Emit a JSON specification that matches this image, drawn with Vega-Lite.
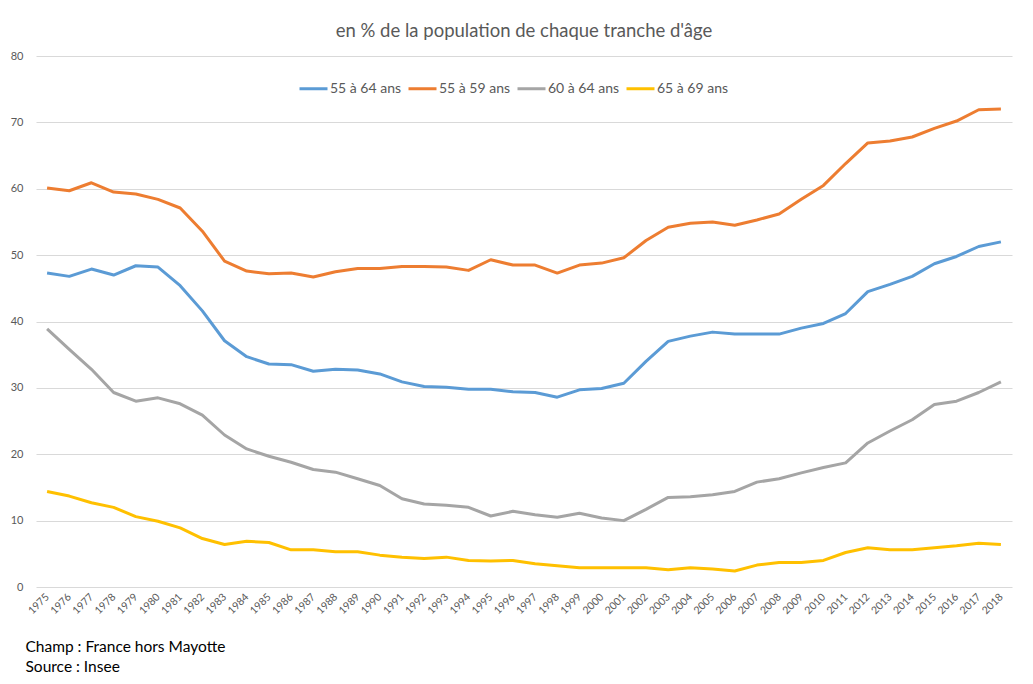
{
  "$schema": "https://vega.github.io/schema/vega-lite/v6.json",
  "width": 976,
  "height": 531,
  "autosize": {"type": "none"},
  "padding": {"left": 36, "top": 56, "right": 21, "bottom": 97},
  "background": "white",
  "config": {
    "font": "Lato",
    "view": {"stroke": null}
  },
  "title": {
    "text": "en % de la population de chaque tranche d'âge",
    "fontSize": 18.5,
    "fontWeight": "normal",
    "color": "#595959",
    "anchor": "middle",
    "offset": 10
  },
  "data": {
    "values": [
      {"annee":1975,"tranche":"55 à 64 ans","taux":47.3},{"annee":1976,"tranche":"55 à 64 ans","taux":46.8},{"annee":1977,"tranche":"55 à 64 ans","taux":47.9},{"annee":1978,"tranche":"55 à 64 ans","taux":47.0},{"annee":1979,"tranche":"55 à 64 ans","taux":48.4},{"annee":1980,"tranche":"55 à 64 ans","taux":48.2},{"annee":1981,"tranche":"55 à 64 ans","taux":45.4},{"annee":1982,"tranche":"55 à 64 ans","taux":41.6},{"annee":1983,"tranche":"55 à 64 ans","taux":37.1},{"annee":1984,"tranche":"55 à 64 ans","taux":34.7},{"annee":1985,"tranche":"55 à 64 ans","taux":33.6},{"annee":1986,"tranche":"55 à 64 ans","taux":33.5},{"annee":1987,"tranche":"55 à 64 ans","taux":32.5},{"annee":1988,"tranche":"55 à 64 ans","taux":32.8},{"annee":1989,"tranche":"55 à 64 ans","taux":32.7},{"annee":1990,"tranche":"55 à 64 ans","taux":32.1},{"annee":1991,"tranche":"55 à 64 ans","taux":30.9},{"annee":1992,"tranche":"55 à 64 ans","taux":30.2},{"annee":1993,"tranche":"55 à 64 ans","taux":30.1},{"annee":1994,"tranche":"55 à 64 ans","taux":29.8},{"annee":1995,"tranche":"55 à 64 ans","taux":29.8},{"annee":1996,"tranche":"55 à 64 ans","taux":29.4},{"annee":1997,"tranche":"55 à 64 ans","taux":29.3},{"annee":1998,"tranche":"55 à 64 ans","taux":28.6},{"annee":1999,"tranche":"55 à 64 ans","taux":29.7},{"annee":2000,"tranche":"55 à 64 ans","taux":29.9},{"annee":2001,"tranche":"55 à 64 ans","taux":30.7},{"annee":2002,"tranche":"55 à 64 ans","taux":34.0},{"annee":2003,"tranche":"55 à 64 ans","taux":37.0},{"annee":2004,"tranche":"55 à 64 ans","taux":37.8},{"annee":2005,"tranche":"55 à 64 ans","taux":38.4},{"annee":2006,"tranche":"55 à 64 ans","taux":38.1},{"annee":2007,"tranche":"55 à 64 ans","taux":38.1},{"annee":2008,"tranche":"55 à 64 ans","taux":38.1},{"annee":2009,"tranche":"55 à 64 ans","taux":39.0},{"annee":2010,"tranche":"55 à 64 ans","taux":39.7},{"annee":2011,"tranche":"55 à 64 ans","taux":41.2},{"annee":2012,"tranche":"55 à 64 ans","taux":44.5},{"annee":2013,"tranche":"55 à 64 ans","taux":45.6},{"annee":2014,"tranche":"55 à 64 ans","taux":46.8},{"annee":2015,"tranche":"55 à 64 ans","taux":48.7},{"annee":2016,"tranche":"55 à 64 ans","taux":49.8},{"annee":2017,"tranche":"55 à 64 ans","taux":51.3},{"annee":2018,"tranche":"55 à 64 ans","taux":52.0},
      {"annee":1975,"tranche":"55 à 59 ans","taux":60.1},{"annee":1976,"tranche":"55 à 59 ans","taux":59.7},{"annee":1977,"tranche":"55 à 59 ans","taux":60.9},{"annee":1978,"tranche":"55 à 59 ans","taux":59.5},{"annee":1979,"tranche":"55 à 59 ans","taux":59.2},{"annee":1980,"tranche":"55 à 59 ans","taux":58.4},{"annee":1981,"tranche":"55 à 59 ans","taux":57.1},{"annee":1982,"tranche":"55 à 59 ans","taux":53.6},{"annee":1983,"tranche":"55 à 59 ans","taux":49.1},{"annee":1984,"tranche":"55 à 59 ans","taux":47.6},{"annee":1985,"tranche":"55 à 59 ans","taux":47.2},{"annee":1986,"tranche":"55 à 59 ans","taux":47.3},{"annee":1987,"tranche":"55 à 59 ans","taux":46.7},{"annee":1988,"tranche":"55 à 59 ans","taux":47.5},{"annee":1989,"tranche":"55 à 59 ans","taux":48.0},{"annee":1990,"tranche":"55 à 59 ans","taux":48.0},{"annee":1991,"tranche":"55 à 59 ans","taux":48.3},{"annee":1992,"tranche":"55 à 59 ans","taux":48.3},{"annee":1993,"tranche":"55 à 59 ans","taux":48.2},{"annee":1994,"tranche":"55 à 59 ans","taux":47.7},{"annee":1995,"tranche":"55 à 59 ans","taux":49.3},{"annee":1996,"tranche":"55 à 59 ans","taux":48.5},{"annee":1997,"tranche":"55 à 59 ans","taux":48.5},{"annee":1998,"tranche":"55 à 59 ans","taux":47.3},{"annee":1999,"tranche":"55 à 59 ans","taux":48.5},{"annee":2000,"tranche":"55 à 59 ans","taux":48.8},{"annee":2001,"tranche":"55 à 59 ans","taux":49.6},{"annee":2002,"tranche":"55 à 59 ans","taux":52.2},{"annee":2003,"tranche":"55 à 59 ans","taux":54.2},{"annee":2004,"tranche":"55 à 59 ans","taux":54.8},{"annee":2005,"tranche":"55 à 59 ans","taux":55.0},{"annee":2006,"tranche":"55 à 59 ans","taux":54.5},{"annee":2007,"tranche":"55 à 59 ans","taux":55.3},{"annee":2008,"tranche":"55 à 59 ans","taux":56.2},{"annee":2009,"tranche":"55 à 59 ans","taux":58.4},{"annee":2010,"tranche":"55 à 59 ans","taux":60.5},{"annee":2011,"tranche":"55 à 59 ans","taux":63.8},{"annee":2012,"tranche":"55 à 59 ans","taux":66.9},{"annee":2013,"tranche":"55 à 59 ans","taux":67.2},{"annee":2014,"tranche":"55 à 59 ans","taux":67.8},{"annee":2015,"tranche":"55 à 59 ans","taux":69.1},{"annee":2016,"tranche":"55 à 59 ans","taux":70.2},{"annee":2017,"tranche":"55 à 59 ans","taux":71.9},{"annee":2018,"tranche":"55 à 59 ans","taux":72.0},
      {"annee":1975,"tranche":"60 à 64 ans","taux":38.9},{"annee":1976,"tranche":"60 à 64 ans","taux":35.8},{"annee":1977,"tranche":"60 à 64 ans","taux":32.8},{"annee":1978,"tranche":"60 à 64 ans","taux":29.3},{"annee":1979,"tranche":"60 à 64 ans","taux":28.0},{"annee":1980,"tranche":"60 à 64 ans","taux":28.5},{"annee":1981,"tranche":"60 à 64 ans","taux":27.6},{"annee":1982,"tranche":"60 à 64 ans","taux":25.9},{"annee":1983,"tranche":"60 à 64 ans","taux":22.9},{"annee":1984,"tranche":"60 à 64 ans","taux":20.8},{"annee":1985,"tranche":"60 à 64 ans","taux":19.7},{"annee":1986,"tranche":"60 à 64 ans","taux":18.8},{"annee":1987,"tranche":"60 à 64 ans","taux":17.7},{"annee":1988,"tranche":"60 à 64 ans","taux":17.3},{"annee":1989,"tranche":"60 à 64 ans","taux":16.3},{"annee":1990,"tranche":"60 à 64 ans","taux":15.3},{"annee":1991,"tranche":"60 à 64 ans","taux":13.3},{"annee":1992,"tranche":"60 à 64 ans","taux":12.5},{"annee":1993,"tranche":"60 à 64 ans","taux":12.3},{"annee":1994,"tranche":"60 à 64 ans","taux":12.0},{"annee":1995,"tranche":"60 à 64 ans","taux":10.7},{"annee":1996,"tranche":"60 à 64 ans","taux":11.4},{"annee":1997,"tranche":"60 à 64 ans","taux":10.9},{"annee":1998,"tranche":"60 à 64 ans","taux":10.5},{"annee":1999,"tranche":"60 à 64 ans","taux":11.1},{"annee":2000,"tranche":"60 à 64 ans","taux":10.4},{"annee":2001,"tranche":"60 à 64 ans","taux":10.0},{"annee":2002,"tranche":"60 à 64 ans","taux":11.7},{"annee":2003,"tranche":"60 à 64 ans","taux":13.5},{"annee":2004,"tranche":"60 à 64 ans","taux":13.6},{"annee":2005,"tranche":"60 à 64 ans","taux":13.9},{"annee":2006,"tranche":"60 à 64 ans","taux":14.4},{"annee":2007,"tranche":"60 à 64 ans","taux":15.8},{"annee":2008,"tranche":"60 à 64 ans","taux":16.3},{"annee":2009,"tranche":"60 à 64 ans","taux":17.2},{"annee":2010,"tranche":"60 à 64 ans","taux":18.0},{"annee":2011,"tranche":"60 à 64 ans","taux":18.7},{"annee":2012,"tranche":"60 à 64 ans","taux":21.7},{"annee":2013,"tranche":"60 à 64 ans","taux":23.5},{"annee":2014,"tranche":"60 à 64 ans","taux":25.2},{"annee":2015,"tranche":"60 à 64 ans","taux":27.5},{"annee":2016,"tranche":"60 à 64 ans","taux":28.0},{"annee":2017,"tranche":"60 à 64 ans","taux":29.3},{"annee":2018,"tranche":"60 à 64 ans","taux":30.9},
      {"annee":1975,"tranche":"65 à 69 ans","taux":14.4},{"annee":1976,"tranche":"65 à 69 ans","taux":13.7},{"annee":1977,"tranche":"65 à 69 ans","taux":12.7},{"annee":1978,"tranche":"65 à 69 ans","taux":12.0},{"annee":1979,"tranche":"65 à 69 ans","taux":10.6},{"annee":1980,"tranche":"65 à 69 ans","taux":9.9},{"annee":1981,"tranche":"65 à 69 ans","taux":8.9},{"annee":1982,"tranche":"65 à 69 ans","taux":7.3},{"annee":1983,"tranche":"65 à 69 ans","taux":6.4},{"annee":1984,"tranche":"65 à 69 ans","taux":6.9},{"annee":1985,"tranche":"65 à 69 ans","taux":6.7},{"annee":1986,"tranche":"65 à 69 ans","taux":5.6},{"annee":1987,"tranche":"65 à 69 ans","taux":5.6},{"annee":1988,"tranche":"65 à 69 ans","taux":5.3},{"annee":1989,"tranche":"65 à 69 ans","taux":5.3},{"annee":1990,"tranche":"65 à 69 ans","taux":4.8},{"annee":1991,"tranche":"65 à 69 ans","taux":4.5},{"annee":1992,"tranche":"65 à 69 ans","taux":4.3},{"annee":1993,"tranche":"65 à 69 ans","taux":4.5},{"annee":1994,"tranche":"65 à 69 ans","taux":4.0},{"annee":1995,"tranche":"65 à 69 ans","taux":3.9},{"annee":1996,"tranche":"65 à 69 ans","taux":4.0},{"annee":1997,"tranche":"65 à 69 ans","taux":3.5},{"annee":1998,"tranche":"65 à 69 ans","taux":3.2},{"annee":1999,"tranche":"65 à 69 ans","taux":2.9},{"annee":2000,"tranche":"65 à 69 ans","taux":2.9},{"annee":2001,"tranche":"65 à 69 ans","taux":2.9},{"annee":2002,"tranche":"65 à 69 ans","taux":2.9},{"annee":2003,"tranche":"65 à 69 ans","taux":2.6},{"annee":2004,"tranche":"65 à 69 ans","taux":2.9},{"annee":2005,"tranche":"65 à 69 ans","taux":2.7},{"annee":2006,"tranche":"65 à 69 ans","taux":2.4},{"annee":2007,"tranche":"65 à 69 ans","taux":3.3},{"annee":2008,"tranche":"65 à 69 ans","taux":3.7},{"annee":2009,"tranche":"65 à 69 ans","taux":3.7},{"annee":2010,"tranche":"65 à 69 ans","taux":4.0},{"annee":2011,"tranche":"65 à 69 ans","taux":5.2},{"annee":2012,"tranche":"65 à 69 ans","taux":5.9},{"annee":2013,"tranche":"65 à 69 ans","taux":5.6},{"annee":2014,"tranche":"65 à 69 ans","taux":5.6},{"annee":2015,"tranche":"65 à 69 ans","taux":5.9},{"annee":2016,"tranche":"65 à 69 ans","taux":6.2},{"annee":2017,"tranche":"65 à 69 ans","taux":6.6},{"annee":2018,"tranche":"65 à 69 ans","taux":6.4}
    ]
  },
  "mark": {"type": "line", "strokeWidth": 3, "strokeJoin": "round"},
  "encoding": {
    "x": {
      "field": "annee",
      "type": "ordinal",
      "scale": {"type": "point", "padding": 0.5},
      "axis": {
        "domain": false,
        "ticks": false,
        "grid": false,
        "labelAngle": -45,
        "labelAlign": "right",
        "labelBaseline": "middle",
        "labelPadding": 8,
        "labelFontSize": 10.5,
        "labelColor": "#595959",
        "title": ["Champ : France hors Mayotte", "Source : Insee"],
        "titleFontSize": 15.5,
        "titleFontWeight": "normal",
        "titleColor": "#000000",
        "titleAlign": "left",
        "titleAnchor": "start",
        "titleBaseline": "top",
        "titleX": -11,
        "titleY": 52,
        "titleLineHeight": 20
      }
    },
    "y": {
      "field": "taux",
      "type": "quantitative",
      "scale": {"domain": [0, 80], "nice": false},
      "axis": {
        "values": [0, 10, 20, 30, 40, 50, 60, 70, 80],
        "domain": false,
        "ticks": false,
        "grid": true,
        "gridColor": "#d9d9d9",
        "gridWidth": 1,
        "labelPadding": 13,
        "labelFontSize": 11,
        "labelColor": "#595959",
        "title": null
      }
    },
    "color": {
      "field": "tranche",
      "type": "nominal",
      "sort": ["55 à 64 ans", "55 à 59 ans", "60 à 64 ans", "65 à 69 ans"],
      "scale": {
        "domain": ["55 à 64 ans", "55 à 59 ans", "60 à 64 ans", "65 à 69 ans"],
        "range": ["#5B9BD5", "#ED7D31", "#A5A5A5", "#FFC000"]
      },
      "legend": {
        "title": null,
        "orient": "none",
        "legendX": 262,
        "legendY": 17,
        "direction": "horizontal",
        "symbolType": "stroke",
        "symbolSize": 784,
        "symbolStrokeWidth": 3,
        "labelFontSize": 14,
        "labelColor": "#595959",
        "labelOffset": 1,
        "columnPadding": 0
      }
    }
  }
}
